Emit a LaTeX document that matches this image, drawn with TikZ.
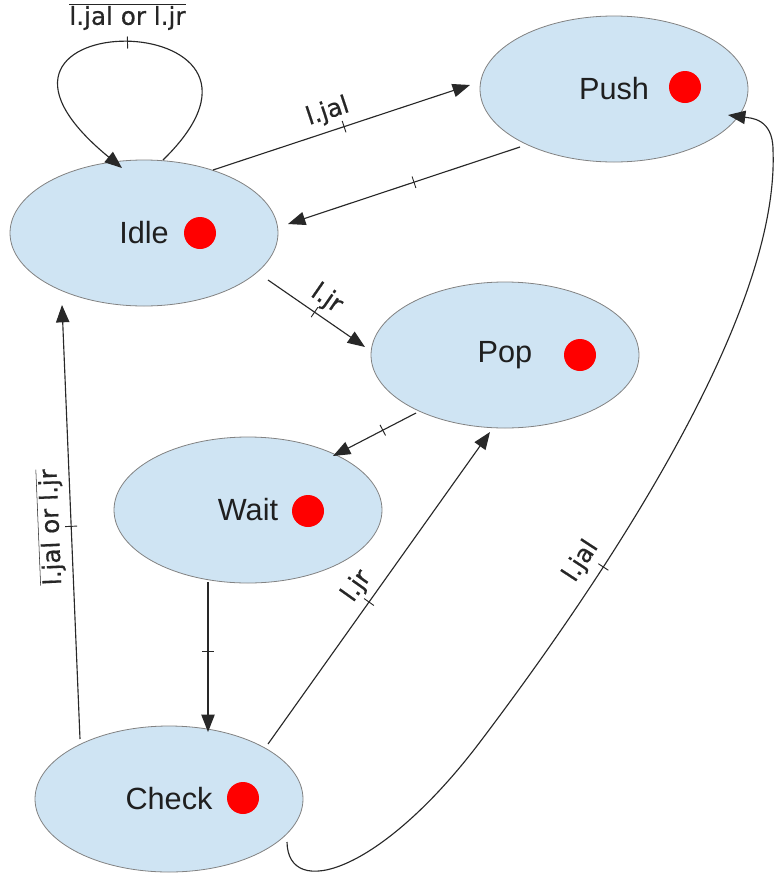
\documentclass[tikz,border=0pt]{standalone}
\usepackage{fontspec}
\setmainfont{Liberation Sans}
\newfontfamily\lblfont[FakeBold=0.6]{DejaVu Sans}
\usetikzlibrary{shapes.geometric,arrows.meta,calc}
\definecolor{stfill}{RGB}{207,228,243}
\definecolor{stdraw}{RGB}{130,130,130}
\definecolor{ln}{RGB}{40,40,40}
\newcommand\tkmark{\rule{0.7pt}{9pt}}
\begin{document}
\begin{tikzpicture}[x=0.75pt,y=-0.75pt,
  st/.style={ellipse, fill=stfill, draw=stdraw, line width=0.6pt,
    minimum width=201pt, minimum height=109.5pt, inner sep=0pt,
    font=\fontsize{23}{27}\selectfont, text=black!88},
  reddot/.style={circle, fill=red, minimum size=24pt, inner sep=0pt},
  edge/.style={draw=ln, line width=0.85pt},
  arr/.style={edge, -{Triangle[length=13pt,width=10pt]}},
  tk/.style={sloped, inner sep=0pt, outer sep=0pt, text=ln},
  lbl/.style={font=\lblfont\fontsize{18.5}{21}\selectfont, text=black!85, inner sep=2pt},
]
\useasboundingbox (0,0) rectangle (774,875);
% states
\node[st] (push) at (614,89) {Push};
\node[st] (idle) at (144,233) {Idle};
\node[st] (pop) at (505,355) {Pop};
\node[st] (wait) at (248,510) {Wait};
\node[st] (check) at (169,799) {Check};
% red dots
\node[reddot] (pushdot) at (685,87) {};
\node[reddot] (idledot) at (200,233) {};
\node[reddot] (popdot) at (580,355) {};
\node[reddot] (waitdot) at (308,511) {};
\node[reddot] (checkdot) at (243,798) {};
% self loop on Idle
\draw[arr] ($(idle)+(19,-73)$) .. controls (325,2) and (-80,2) .. ($(idle)+(-22,-65)$)
  node[tk,pos=0.5] (t1) {\tkmark}
  node[lbl,pos=0.5,above=7pt] (l1) {$\overline{\mbox{l.jal or l.jr}}$};
% Idle -> Push
\draw[arr] ($(idle)+(69,-63)$) -- ($(push)+(-144,-4)$)
  node[tk,pos=0.51] (t2) {\tkmark}
  node[lbl,pos=0.47,above=3pt,sloped] (l2) {l.jal};
% Push -> Idle
\draw[arr] ($(push)+(-94,58)$) -- ($(idle)+(144,-9)$)
  node[tk,pos=0.457] (t3) {\tkmark};
% Idle -> Pop
\draw[arr] ($(idle)+(124,47)$) -- ($(pop)+(-140,-8)$)
  node[tk,pos=0.48] (t4) {\tkmark}
  node[lbl,pos=0.5,above=2pt,sloped] (l4) {l.jr};
% Pop -> Wait
\draw[arr] ($(pop)+(-89,58)$) -- ($(wait)+(85,-54)$)
  node[tk,pos=0.4] (t5) {\tkmark};
% Wait -> Check
\draw[arr] ($(wait)+(-40,72)$) -- ($(check)+(39,-67)$)
  node[tk,pos=0.46] (t6) {\tkmark};
% Check -> Idle
\draw[arr] ($(check)+(-89,-60)$) -- ($(idle)+(-82,72)$)
  node[tk,pos=0.49] (t7) {\tkmark}
  node[lbl,pos=0.49,above=3pt,sloped,allow upside down] (l7) {$\overline{\mbox{l.jal or l.jr}}$};
% Check -> Pop
\draw[arr] ($(check)+(99,-55)$) -- ($(pop)+(-15,77)$)
  node[tk,pos=0.455] (t8) {\tkmark}
  node[lbl,pos=0.47,above=3pt,sloped] (l8) {l.jr};
% Check -> Push
\draw[arr] ($(check)+(118,43)$) .. controls (288,900) and (380,874) .. (480,742)
  .. controls (595,590) and (780,320) .. (773,150)
  node[tk,pos=0.32] (t9) {\tkmark}
  node[lbl,pos=0.31,above=5pt,sloped] (l9) {l.jal}
  .. controls (773,118) and (750,118) .. ($(push)+(114,26)$);
\end{tikzpicture}
\end{document}
